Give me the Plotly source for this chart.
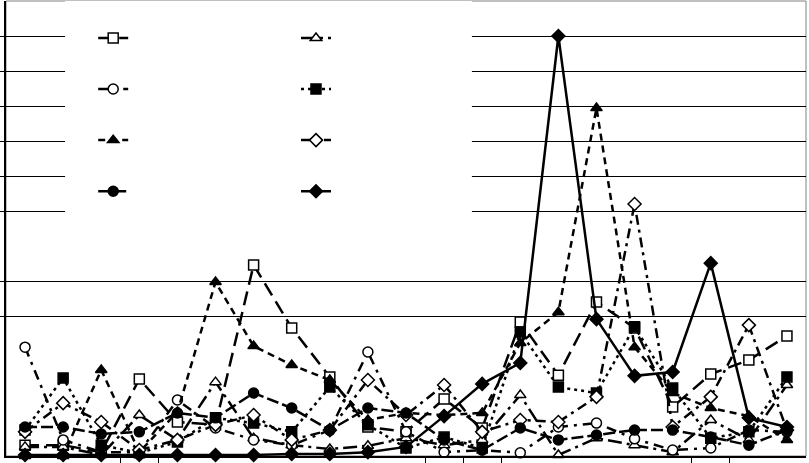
import plotly.graph_objects as go

categories = list(range(21))

series_a = [0.31, 0.31, 0.11, 2.20, 0.97, 0.89, 5.46, 3.66, 2.26, 0.83, 0.69, 1.63, 0.80, 3.83, 2.31, 4.40, 3.66, 1.40, 2.34, 2.74, 3.43]
series_b = [0.26, 0.26, 0.03, 1.17, 0.46, 2.11, 0.51, 0.31, 0.20, 0.29, 0.51, 0.31, 0.46, 1.74, 0.03, 0.51, 0.31, 0.11, 1.03, 0.46, 2.03]
series_c = [3.11, 0.46, 0.11, 0.11, 1.60, 0.80, 0.46, 0.31, 0.74, 2.97, 0.69, 0.11, 0.17, 0.09, 0.83, 0.94, 0.49, 0.17, 0.23, 0.74, 0.69]
series_d = [0.74, 2.23, 0.31, 0.09, 0.40, 1.09, 0.94, 0.69, 1.97, 0.89, 0.23, 0.54, 0.23, 3.54, 1.97, 1.80, 3.69, 1.94, 0.51, 0.69, 2.26]
series_e = [0.00, 0.00, 2.46, 0.11, 1.26, 4.97, 3.14, 2.60, 2.17, 1.03, 1.23, 1.17, 1.23, 3.23, 4.11, 9.94, 3.11, 1.80, 1.37, 1.14, 0.46]
series_f = [0.69, 1.51, 0.97, 0.17, 0.46, 0.89, 1.17, 0.46, 0.74, 2.17, 1.17, 2.03, 0.69, 1.03, 0.97, 1.69, 7.20, 0.83, 1.69, 3.74, 0.74]
series_g = [0.83, 0.83, 0.63, 0.69, 1.23, 1.09, 1.80, 1.37, 0.74, 1.37, 1.23, 0.46, 0.17, 0.80, 0.46, 0.60, 0.74, 0.74, 0.54, 0.31, 0.74]
series_h = [0.03, 0.03, 0.03, 0.03, 0.03, 0.03, 0.03, 0.06, 0.06, 0.11, 0.26, 1.14, 2.06, 2.66, 12.0, 3.91, 2.29, 2.40, 5.51, 1.09, 0.83]

grid_vals = [4, 5, 7, 8, 9, 10, 11, 12]
x_tick_vals = [2.5, 3.5, 10.5, 11.5, 12.5, 17.5, 18.5]

specs = [
    (series_a, "square", "white", "14px,7px", "legend"),
    (series_b, "triangle-up", "white", "14px,5px,3px,5px", "legend2"),
    (series_c, "circle", "white", "10px,6px,3px,6px", "legend"),
    (series_d, "square", "black", "3px,4px", "legend2"),
    (series_e, "triangle-up", "black", "7px,5px", "legend"),
    (series_f, "diamond", "white", "10px,5px,3px,5px", "legend2"),
    (series_g, "circle", "black", "12px,4px", "legend"),
    (series_h, "diamond", "black", "solid", "legend2"),
]

fig = go.Figure()
for vals, sym, fill, dash, leg in specs:
    fig.add_trace(go.Scatter(
        x=categories, y=vals, mode="lines+markers", name=" ",
        line=dict(color="black", width=2.5, dash=dash),
        marker=dict(symbol=sym, size=10, color=fill, line=dict(color="black", width=1.5)),
        legend=leg, cliponaxis=False,
    ))

fig.add_shape(type="rect", xref="x", yref="y", x0=1.05, x1=11.73, y0=5.6, y1=13,
              fillcolor="white", line=dict(width=0), layer="between")
fig.add_shape(type="rect", xref="paper", yref="paper", x0=0, x1=1, y0=0, y1=1,
              line=dict(color="#808080", width=1), layer="below")

fig.update_layout(
    width=809, height=463,
    margin=dict(l=6, r=3, t=1, b=7),
    paper_bgcolor="white", plot_bgcolor="white",
    showlegend=True,
    legend=dict(x=0.109, y=0.986, xanchor="left", yanchor="top", bgcolor="rgba(0,0,0,0)",
                font=dict(size=37, family="Liberation Sans"), tracegroupgap=0),
    legend2=dict(x=0.3625, y=0.986, xanchor="left", yanchor="top", bgcolor="rgba(0,0,0,0)",
                 font=dict(size=37, family="Liberation Sans"), tracegroupgap=0),
    xaxis=dict(range=[-0.5, 20.5], showgrid=False, zeroline=False, showline=True,
               linecolor="black", linewidth=2, ticks="outside", ticklen=5, tickcolor="black",
               tickvals=x_tick_vals, showticklabels=False),
    yaxis=dict(range=[0, 13], showgrid=True, gridcolor="black", gridwidth=1, zeroline=False,
               showline=True, linecolor="black", linewidth=2, ticks="outside", ticklen=5,
               tickcolor="black", tickvals=grid_vals, showticklabels=False),
)

fig.write_html("out.html", config={"displayModeBar": False},
               post_script="document.body.style.margin='0px';document.body.style.overflow='hidden';")
